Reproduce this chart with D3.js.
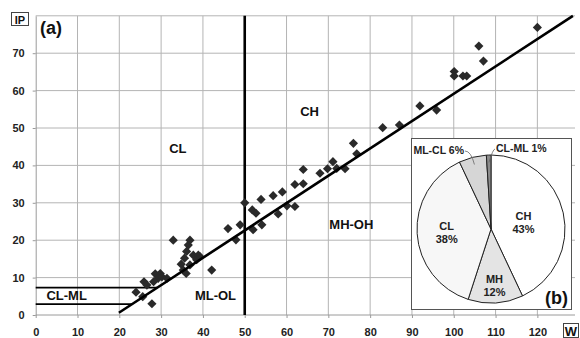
<!DOCTYPE html>
<html>
<head>
<meta charset="utf-8">
<script src="https://cdn.jsdelivr.net/npm/d3@7"></script>
<style>
  body { margin: 0; background: #fff; }
  text { font-family: "Liberation Sans", Arial, sans-serif; }
</style>
</head>
<body>
<div id="canvas"></div>
<script>
// scatter data, W (liquid limit) vs IP (plasticity index)
const wValues = [24.0, 25.9, 26.6, 25.6, 27.8, 28.6, 29.8, 29.3, 28.2, 31.4, 30.2, 32.9,
  34.8, 35.6, 35.3, 36.0, 36.5, 36.9, 36.1, 37.7, 38.9, 38.5, 36.9, 39.3, 42.1,
  46.0, 47.9, 48.9, 50.0, 52.0, 51.8, 52.7, 53.9, 54.1, 56.8, 58.0, 59.0, 60.1,
  62.0, 62.0, 64.0, 64.0, 68.0, 69.8, 71.1, 72.0, 74.0, 76.0, 76.8, 83.0, 87.0,
  91.9, 95.9, 100.1, 100.1, 102.2, 103.1, 106.0, 107.1, 120.0];
const ipValues = [6.1, 8.9, 8.0, 4.9, 3.0, 11.0, 11.1, 9.8, 8.9, 9.8, 10.2, 20.0,
  13.6, 15.2, 12.0, 11.1, 18.7, 20.0, 17.0, 16.0, 16.0, 14.8, 13.4, 15.6, 12.0,
  23.1, 20.1, 24.1, 30.0, 22.8, 28.1, 27.2, 30.9, 24.1, 31.9, 27.0, 32.9, 29.2,
  34.9, 29.0, 35.1, 38.9, 37.9, 39.1, 41.0, 39.2, 39.1, 45.9, 43.1, 50.1, 50.8,
  55.9, 54.8, 65.1, 63.9, 63.9, 63.9, 71.9, 67.9, 76.9];

const xTicks = [0, 10, 20, 30, 40, 50, 60, 70, 80, 90, 100, 110, 120];
const yTicks = [0, 10, 20, 30, 40, 50, 60, 70];

// A-line ends, W=50 divider, CL-ML band limits
const aLine = [[19.9, 0.6], [128.5, 80]];
const wLimit = 50;
const clmlBand = [7.3, 2.9];

const zoneNames = ["CL", "CH", "MH-OH", "ML-OL", "CL-ML"];
const zoneW = [34.0, 65.5, 75.5, 43.0, 7.4];
const zoneIP = [44.3, 54.0, 24.0, 4.8, 4.8];

// pie (b)
const pieNames = ["CH", "MH", "CL", "ML-CL", "CL-ML"];
const pieShares = [43, 12, 38, 6, 1];
const pieColors = ["#ffffff", "#e4e4e4", "#f7f7f7", "#d6d6d6", "#8c8c8c"];

const width = 580, height = 338;
const svg = d3.select("#canvas").append("svg")
  .attr("width", width).attr("height", height);

const x = d3.scaleLinear().domain([0, 129]).range([35.7, 575]);
const y = d3.scaleLinear().domain([0, 80]).range([315, 15.8]);

// grid
svg.append("g").selectAll("line.v").data(xTicks.filter(d => d > 0))
  .enter().append("line")
  .attr("x1", d => x(d)).attr("x2", d => x(d))
  .attr("y1", y(80)).attr("y2", y(0))
  .attr("stroke", "#b4b4b4").attr("stroke-width", 1);
svg.append("g").selectAll("line.h").data(yTicks.filter(d => d > 0).concat([80]))
  .enter().append("line")
  .attr("x1", x(0)).attr("x2", x(129))
  .attr("y1", d => y(d)).attr("y2", d => y(d))
  .attr("stroke", "#b4b4b4").attr("stroke-width", 1);

// axes
const xAxis = svg.append("g")
  .attr("transform", `translate(0,${y(0)})`)
  .call(d3.axisBottom(x).tickValues(xTicks).tickSize(3).tickPadding(10).tickSizeOuter(0));
const yAxis = svg.append("g")
  .attr("transform", `translate(${x(0)},0)`)
  .call(d3.axisLeft(y).tickValues(yTicks).tickSize(3).tickPadding(8).tickSizeOuter(0));
[xAxis, yAxis].forEach(a => {
  a.select(".domain").attr("stroke", "#9a9a9a");
  a.selectAll(".tick line").attr("stroke", "#9a9a9a");
  a.selectAll(".tick text")
    .attr("fill", "#222").attr("font-size", 11).attr("font-weight", "bold")
    .attr("font-family", "'Liberation Sans', Arial, sans-serif");
});
xAxis.select(".domain").attr("d", `M${x(0)},0H${x(129)}`);

// CL-ML band lines
svg.append("g").selectAll("line").data(clmlBand).enter().append("line")
  .attr("x1", x(0))
  .attr("x2", d => x(aLine[0][0] + (d - aLine[0][1]) * (aLine[1][0] - aLine[0][0]) / (aLine[1][1] - aLine[0][1])))
  .attr("y1", d => y(d)).attr("y2", d => y(d))
  .attr("stroke", "#000").attr("stroke-width", 1.8);

// W = 50
svg.append("line")
  .attr("x1", x(wLimit)).attr("x2", x(wLimit))
  .attr("y1", y(0)).attr("y2", y(80))
  .attr("stroke", "#000").attr("stroke-width", 2.6);

// points
svg.append("g").selectAll("path").data(wValues).enter().append("path")
  .attr("d", d3.symbol(d3.symbolSquare, 42))
  .attr("transform", (d, i) => `translate(${x(d)},${y(ipValues[i])}) rotate(45)`)
  .attr("fill", "#2a2a2a");

// A-line
svg.append("path")
  .datum(aLine)
  .attr("d", d3.line().x(d => x(d[0])).y(d => y(d[1])))
  .attr("stroke", "#000").attr("stroke-width", 2.6).attr("fill", "none");

// zone labels
svg.append("g").selectAll("text").data(zoneNames).enter().append("text")
  .attr("x", (d, i) => x(zoneW[i])).attr("y", (d, i) => y(zoneIP[i]))
  .attr("text-anchor", "middle").attr("dominant-baseline", "middle")
  .attr("font-size", 13).attr("font-weight", "bold").attr("fill", "#111")
  .text(d => d);

svg.append("text").attr("x", 40).attr("y", 34)
  .attr("font-size", 18).attr("font-weight", "bold").attr("fill", "#111").text("(a)");

// axis title boxes
svg.append("rect").attr("x", 11.5).attr("y", 12.5).attr("width", 17).attr("height", 13)
  .attr("fill", "#fff").attr("stroke", "#444");
svg.append("text").attr("x", 20).attr("y", 23.5).attr("text-anchor", "middle")
  .attr("font-size", 11).attr("font-weight", "bold").attr("fill", "#111").text("IP");
svg.append("rect").attr("x", 563.5).attr("y", 323.5).attr("width", 15).attr("height", 14)
  .attr("fill", "#fff").attr("stroke", "#444");
svg.append("text").attr("x", 571).attr("y", 335.5).attr("text-anchor", "middle")
  .attr("font-size", 13).attr("font-weight", "bold").attr("fill", "#111").text("W");

// inset pie
svg.append("rect").attr("x", 411.5).attr("y", 138.5).attr("width", 160).attr("height", 171)
  .attr("fill", "#fff").attr("stroke", "#555");

const cx = 491, cy = 229, r = 74;
const pie = d3.pie().sort(null).value(d => d)(pieShares);
const arc = d3.arc().innerRadius(0).outerRadius(r);
const pg = svg.append("g").attr("transform", `translate(${cx},${cy})`);
pg.selectAll("path").data(pie).enter().append("path")
  .attr("d", arc)
  .attr("fill", (d, i) => pieColors[i])
  .attr("stroke", "#222").attr("stroke-width", 1);

// label distance from centre, as a share of the radius
const labelAt = [0.45, 0.75, 0.6];
pg.selectAll("text.in").data(pie.slice(0, 3)).enter().append("text")
  .attr("transform", (d, i) => {
    const rr = r * labelAt[i];
    return `translate(${d3.arc().innerRadius(rr).outerRadius(rr).centroid(d)})`;
  })
  .attr("text-anchor", "middle").attr("font-size", 11).attr("font-weight", "bold").attr("fill", "#222")
  .each(function (d, i) {
    d3.select(this).append("tspan").attr("x", 0).attr("dy", "-0.15em").text(pieNames[i]);
    d3.select(this).append("tspan").attr("x", 0).attr("dy", "1.2em").text(pieShares[i] + "%");
  });

// outside labels with leaders for the two small slices
const outer = d3.arc().innerRadius(r * 0.9).outerRadius(r * 0.9);
const tags = [
  { i: 3, tx: -26, ty: -75, anchor: "end", lx: -20 },
  { i: 4, tx: 4, ty: -77, anchor: "start", lx: 2 }
];
tags.forEach(t => {
  const c = outer.centroid(pie[t.i]);
  pg.append("path")
    .attr("d", `M${c[0]},${c[1]} Q${t.lx},${t.ty - 3} ${t.tx},${t.ty - 3}`)
    .attr("fill", "none").attr("stroke", "#666").attr("stroke-width", 0.8);
  pg.append("text").attr("x", t.tx + (t.anchor === "end" ? -1 : 1)).attr("y", t.ty)
    .attr("text-anchor", t.anchor).attr("font-size", 10.5).attr("font-weight", "bold").attr("fill", "#222")
    .text(pieNames[t.i] + " " + pieShares[t.i] + "%");
});

svg.append("text").attr("x", 545).attr("y", 304)
  .attr("font-size", 18).attr("font-weight", "bold").attr("fill", "#111").text("(b)");
</script>
</body>
</html>
